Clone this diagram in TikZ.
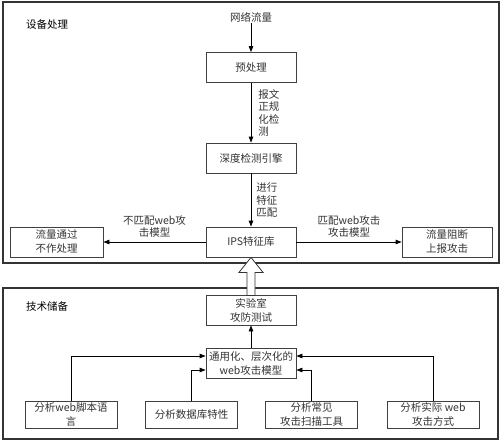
\documentclass[tikz,border=0pt]{standalone}
\usepackage{fontspec}
\setmainfont{Noto Sans CJK SC}
\usetikzlibrary{arrows.meta, calc}

\begin{document}
\begin{tikzpicture}[x=1pt, y=-1pt,
  box/.style={draw=black!75, line width=0.8pt, minimum width=90pt, minimum height=30pt,
    inner sep=1pt, align=center, text=black!80, font=\fontsize{10.5}{14}\selectfont},
  small/.style={box, minimum width=92pt, minimum height=27pt},
  msg/.style={-{Triangle[length=6pt,width=4.5pt]}, line width=0.8pt},
  lbl/.style={font=\fontsize{10.5}{12.5}\selectfont, text=black!80, inner sep=1pt},
  title/.style={font=\fontsize{10.5}{12}\selectfont},
  panel/.style={draw=black!80, line width=1.1pt}
]
\useasboundingbox (0,0) rectangle (502,441);
\draw[panel] (3,2) rectangle (499,263);
\draw[panel] (3,288) rectangle (498,439);

% device processing
\node[title] (dev) at (47,25) {设备处理};
\node[lbl] (flow) at (251,17) {网络流量};
\node[box] (pre) at (251,67.5) {预处理};
\node[box] (dpi) at (251,158) {深度检测引擎};
\node[box] (ips) at (251,242) {IPS特征库};
\node[box, minimum width=93pt] (pass) at (56.5,242) {流量通过\\不作处理};
\node[box] (block) at (447,242) {流量阻断\\上报攻击};

\draw[msg] (flow) -- (pre);
\draw[msg] (pre) -- (dpi) node[lbl, midway, right=6pt, align=left]{报文\\正规\\化检\\测};
\draw[msg] (dpi) -- (ips) node[lbl, midway, right=4pt, align=left]{进行\\特征\\匹配};
\draw[msg] (ips) -- (pass) node[lbl, midway, above=3pt, align=center]{不匹配web攻\\击模型};
\draw[msg] (ips) -- (block) node[lbl, midway, above=3pt, align=center]{匹配web攻击\\攻击模型};

% technical reserve
\node[title] (tech) at (47,306) {技术储备};
\node[box] (lab) at (251,310) {实验室\\攻防测试};
\node[box] (model) at (251,363) {通用化、层次化的\\web攻击模型};
\node[small] (script) at (71,414.5) {分析web脚本语\\言};
\node[small] (db) at (191.5,414.5) {分析数据库特性};
\node[small] (scan) at (311.5,414.5) {分析常见\\攻击扫描工具};
\node[small] (way) at (433,414.5) {分析实际 web\\攻击方式};

\draw[msg] (model) -- (lab);
\draw[msg] (script.north) |- ($(model.west)+(0,-7)$);
\draw[msg] (db.north) |- ($(model.west)+(0,7)$);
\draw[msg] (scan.north) |- ($(model.east)+(0,7)$);
\draw[msg] (way.north) |- ($(model.east)+(0,-7)$);

% hollow arrow up
\draw[draw=black!80, line width=0.8pt, fill=white]
  (ips.south) -- ++(12,15) -- ++(-8,0) -- ++(0,23) -- ++(-8,0) -- ++(0,-23) -- ++(-8,0) -- cycle;
\end{tikzpicture}
\end{document}
